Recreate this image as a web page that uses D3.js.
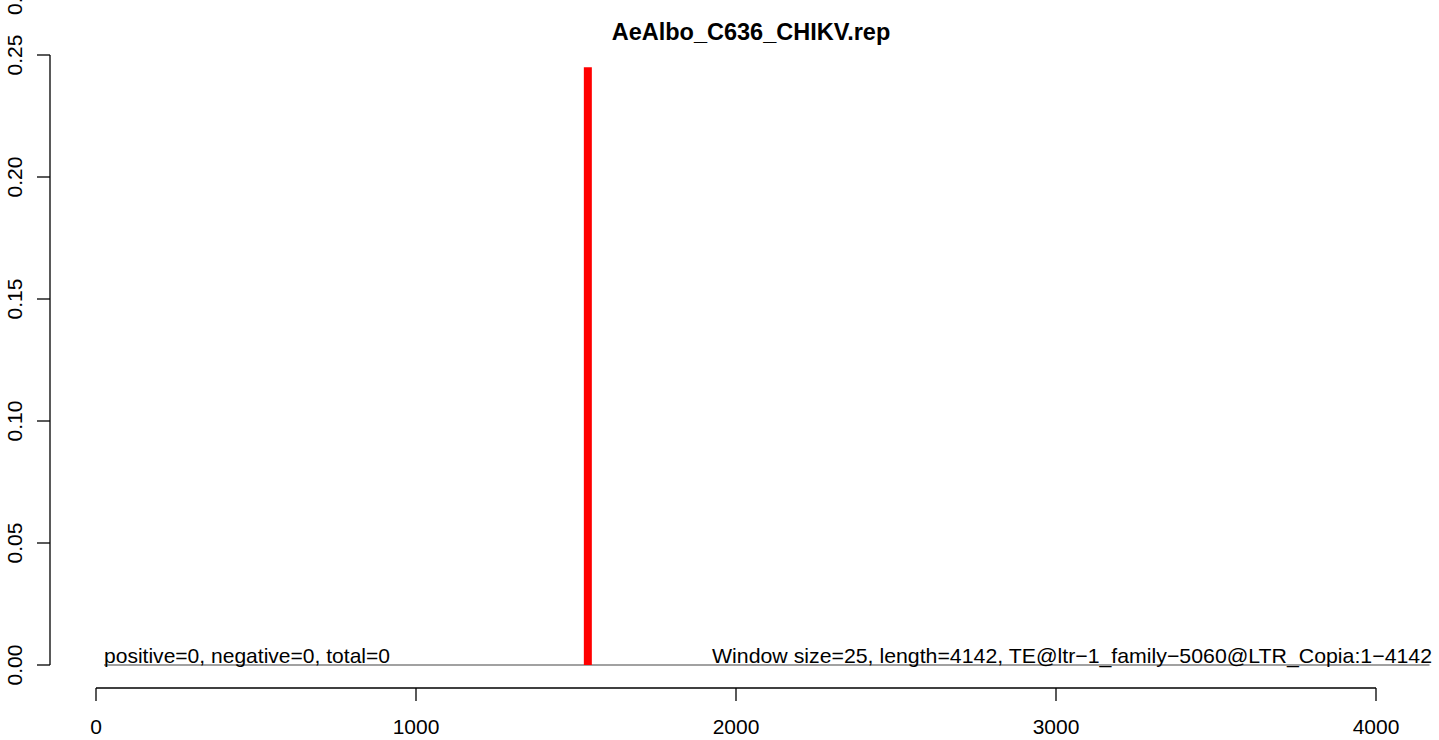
<!DOCTYPE html>
<html><head><meta charset="utf-8">
<script src="https://cdn.jsdelivr.net/npm/d3@7/dist/d3.min.js"></script>
<style>body{margin:0;background:#fff}svg{display:block}text{font-family:"Liberation Sans",Arial,sans-serif}</style>
</head><body>
<script>
const title = "AeAlbo_C636_CHIKV.rep";
const positions = [1537];
const values = [0.245];
const baseline = [25, 4167];
const xTicks = [0, 1000, 2000, 3000, 4000];
const yTicks = [0, 0.05, 0.10, 0.15, 0.20, 0.25];
const yTickLabels = ["0.00", "0.05", "0.10", "0.15", "0.20", "0.25"];
const leftNote = "positive=0, negative=0, total=0";
const rightNote = "Window size=25, length=4142, TE@ltr\u22121_family\u22125060@LTR_Copia:1\u22124142";

const W = 1439, H = 740;
const svg = d3.select("body").append("svg").attr("width", W).attr("height", H);
const x = d3.scaleLinear().domain([0, 4000]).range([96, 1376]);
const y = d3.scaleLinear().domain([0, 0.25]).range([665, 55]);

// y axis
const ya = svg.append("g").attr("transform", "translate(50,0)");
ya.append("line").attr("x1", 0).attr("x2", 0).attr("y1", y(0)).attr("y2", y(0.25)).attr("stroke", "#000").attr("stroke-width", 1.3);
yTicks.forEach((t, i) => {
  ya.append("line").attr("x1", -13).attr("x2", 0).attr("y1", y(t)).attr("y2", y(t)).attr("stroke", "#000").attr("stroke-width", 1.3);
  svg.append("text").attr("transform", `translate(22,${y(t)}) rotate(-90)`).attr("text-anchor", "middle")
    .attr("font-size", 21).text(yTickLabels[i]);
});
// partially visible label at top edge (as in reference)
svg.append("text").attr("transform", `translate(22,15) rotate(-90)`).attr("text-anchor", "start")
  .attr("font-size", 21).text("0.30");

// x axis
const xa = svg.append("g").attr("transform", "translate(0,688)");
xa.append("line").attr("x1", x(0)).attr("x2", x(4000)).attr("y1", 0).attr("y2", 0).attr("stroke", "#000").attr("stroke-width", 1.3);
xTicks.forEach(t => {
  xa.append("line").attr("x1", x(t)).attr("x2", x(t)).attr("y1", 0).attr("y2", 13).attr("stroke", "#000").attr("stroke-width", 1.3);
  xa.append("text").attr("x", x(t)).attr("y", 46).attr("text-anchor", "middle").attr("font-size", 21).text(t);
});

// baseline
svg.append("line").attr("x1", x(baseline[0])).attr("x2", x(baseline[1])).attr("y1", y(0)).attr("y2", y(0))
  .attr("stroke", "#444").attr("stroke-width", 1.2);

// bars
svg.selectAll("line.bar").data(positions).enter().append("line").attr("class", "bar")
  .attr("x1", d => x(d)).attr("x2", d => x(d)).attr("y1", y(0)).attr("y2", (d, i) => y(values[i]))
  .attr("stroke", "#ff0000").attr("stroke-width", 8);

// notes
svg.append("text").attr("x", 104).attr("y", 663).attr("font-size", 21).attr("textLength", 286).attr("lengthAdjust", "spacingAndGlyphs").text(leftNote);
svg.append("text").attr("x", 712).attr("y", 663).attr("font-size", 21).attr("textLength", 720).attr("lengthAdjust", "spacingAndGlyphs").text(rightNote);

// title
svg.append("text").attr("x", 751).attr("y", 40).attr("text-anchor", "middle").attr("font-size", 23.5).attr("font-weight", "bold").text(title);
</script>
</body></html>
